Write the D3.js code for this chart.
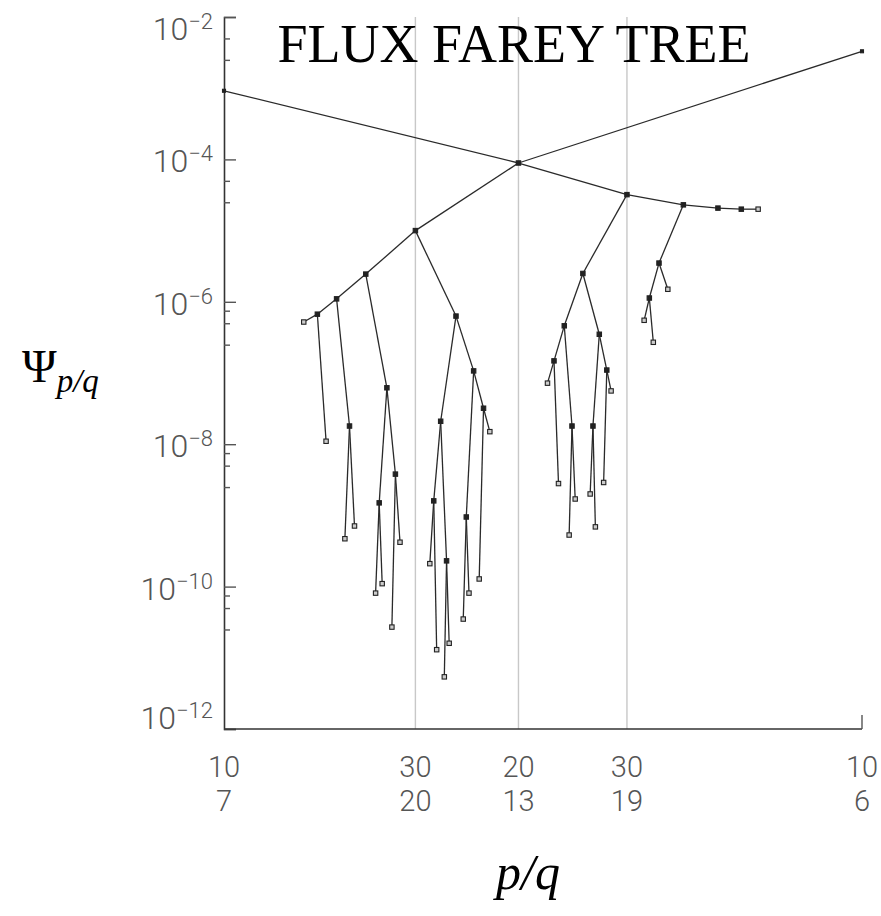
<!DOCTYPE html>
<html>
<head>
<meta charset="utf-8">
<script src="https://cdn.jsdelivr.net/npm/d3@7"></script>
<style>
  body { margin: 0; background: #fff; }
  svg { display: block; }
</style>
</head>
<body>
<div id="chart"></div>
<script>
/* Flux Farey tree: Psi_{p/q} against p/q on a log scale */

// numerators, denominators, flux values, and the fraction each one hangs from
const pNum = [10, 10, 20, 30, 30, 40, 50, 50, 70, 60, 90, 70, 110, 140, 130, 110, 100, 150, 180, 170, 130,
              80, 70, 110, 130, 140, 190, 210, 180, 120, 90, 170, 190, 160, 110,
              50, 40, 70, 80, 90, 120, 110, 160, 190, 170, 130, 110, 180, 210, 190, 140,
              70, 50, 100, 110, 130, 170, 60, 70];
const qDen = [7, 6, 13, 20, 19, 27, 33, 34, 47, 41, 61, 48, 75, 95, 88, 74, 67, 101, 121, 114, 87,
              53, 46, 73, 86, 93, 126, 139, 119, 79, 59, 112, 125, 105, 72,
              32, 25, 45, 51, 58, 77, 71, 103, 122, 109, 83, 70, 115, 134, 121, 89,
              44, 31, 63, 69, 82, 107, 37, 43];
const psi = [9.2e-4, 3.3e-3, 8.9e-5, 1.0e-5, 3.2e-5, 2.45e-6, 6.3e-7, 1.1e-6, 6.2e-8, 6.7e-7, 1.8e-8, 5.2e-7, 1.1e-8,
             4.7e-10, 7.1e-10, 1.5e-9, 3.8e-9, 8.1e-11, 1.1e-10, 2.7e-11, 4.2e-10,
             2.1e-8, 1.07e-7, 1.6e-9, 2.3e-10, 2.1e-10, 1.3e-11, 5.4e-12, 1.6e-11, 9.5e-10, 3.2e-8, 3.5e-11, 8.1e-11, 1.28e-10, 1.5e-8,
             2.5e-6, 2.3e-5, 4.6e-7, 3.5e-7, 1.48e-7, 1.8e-8, 7.2e-8, 2.8e-9, 5.3e-10, 1.7e-9, 1.8e-8, 1.1e-7, 2.0e-9, 6.9e-10, 2.9e-9, 5.6e-8,
             3.5e-6, 2.07e-5, 1.13e-6, 1.5e-6, 5.5e-7, 2.7e-7, 2.0e-5, 2.0e-5];
const parent = ["20/13", "20/13", "", "20/13", "20/13", "30/20", "30/20", "40/27", "40/27", "50/34", "50/34", "60/41", "60/41",
                "90/61", "90/61", "70/47", "70/47", "110/74", "110/74", "100/67", "100/67",
                "50/33", "50/33", "80/53", "80/53", "110/73", "110/73", "130/86", "130/86", "70/46", "70/46", "120/79", "120/79", "90/59", "90/59",
                "30/19", "30/19", "50/32", "50/32", "70/45", "70/45", "90/58", "90/58", "120/77", "120/77", "80/51", "80/51", "130/83", "130/83", "110/70", "110/70",
                "40/25", "40/25", "70/44", "70/44", "100/63", "100/63", "50/31", "60/37"];

// axis ticks
const xTickP = [10, 30, 20, 30, 10];
const xTickQ = [7, 20, 13, 19, 6];
const yMajor = [-2, -4, -6, -8, -10, -12];   // powers of ten that get a label
const yMinor = [0.5e-2, 0.25e-2, 0.5e-4, 0.25e-4,
                0.75e-6, 0.5e-6, 0.25e-6, 0.75e-8, 0.5e-8, 0.25e-8, 0.75e-10, 0.5e-10, 0.25e-10];

const width = 881, height = 916;
const margin = { top: 17, right: 19, bottom: 187, left: 224 };

const nodes = pNum.map((p, i) => ({
    label: p + "/" + qDen[i],
    v: p / qDen[i],
    psi: psi[i],
    parent: parent[i]
}));
const byLabel = new Map(nodes.map(d => [d.label, d]));
const parentSet = new Set(parent);
const ends = new Set(["10/7", "10/6"]);

const svg = d3.select("#chart")
    .append("svg")
    .attr("width", width)
    .attr("height", height);

const x = d3.scaleLinear()
    .domain([10 / 7, 10 / 6])
    .range([margin.left, width - margin.right]);

const y = d3.scaleLog()
    .domain([1e-12, 1e-2])
    .range([height - margin.bottom, margin.top]);

const tickFont = "Roboto, 'DejaVu Sans', sans-serif";

// grey verticals at the inner x ticks
svg.append("g")
    .selectAll("line")
    .data(xTickP.slice(1, 4).map((p, i) => p / xTickQ[i + 1]))
    .join("line")
    .attr("x1", d => x(d)).attr("x2", d => x(d))
    .attr("y1", margin.top).attr("y2", y(1e-12))
    .attr("stroke", "#c8c8c8")
    .attr("stroke-width", 1.4);

// left axis: long ticks at labelled decades, short ones in between
const yAxis = svg.append("g")
    .attr("transform", `translate(${margin.left},0)`)
    .call(d3.axisRight(y)
        .tickValues(yMajor.map(e => Math.pow(10, e)))
        .tickSize(12)
        .tickFormat(""));
yAxis.select(".domain").attr("stroke", "#333").attr("stroke-width", 1.6);
yAxis.selectAll(".tick line").attr("stroke", "#555").attr("stroke-width", 1.4);

const yMinorAxis = svg.append("g")
    .attr("transform", `translate(${margin.left},0)`)
    .call(d3.axisRight(y).tickValues(yMinor).tickSize(6).tickFormat(""));
yMinorAxis.select(".domain").remove();
yMinorAxis.selectAll(".tick line").attr("stroke", "#555").attr("stroke-width", 1.4);

// decade labels, the end ones shifted inward like the original
const yLab = svg.append("g")
    .selectAll("text")
    .data(yMajor)
    .join("text")
    .attr("x", 213)
    .attr("y", (e, i) => y(Math.pow(10, e)) + (i === 0 ? 23 : i === yMajor.length - 1 ? 0 : 13))
    .attr("text-anchor", "end")
    .attr("font-family", tickFont)
    .attr("font-weight", 300)
    .attr("fill", "#555");
yLab.append("tspan").attr("font-size", 32).text("10");
yLab.append("tspan").attr("font-size", 22).attr("dy", -11).text(e => "\u2212" + (-e));

// bottom axis line plus the end tick at 10/6
svg.append("line")
    .attr("x1", x(10 / 7)).attr("x2", x(10 / 6))
    .attr("y1", y(1e-12)).attr("y2", y(1e-12))
    .attr("stroke", "#333").attr("stroke-width", 1.6);
svg.append("line")
    .attr("x1", x(10 / 6)).attr("x2", x(10 / 6))
    .attr("y1", y(1e-12)).attr("y2", y(1e-12) - 14)
    .attr("stroke", "#555").attr("stroke-width", 1.4);

// fraction labels: numerator over denominator
const xLab = svg.append("g")
    .selectAll("g")
    .data(xTickP.map((p, i) => ({ p: p, q: xTickQ[i] })))
    .join("g")
    .attr("font-family", tickFont)
    .attr("font-weight", 300)
    .attr("font-size", 29)
    .attr("fill", "#555")
    .attr("text-anchor", "middle");
xLab.append("text")
    .attr("x", d => x(d.p / d.q)).attr("y", 777)
    .text(d => d.p);
xLab.append("text")
    .attr("x", d => x(d.p / d.q)).attr("y", 811)
    .text(d => d.q);

// tree branches: each fraction joined to the one it came from
svg.append("g")
    .selectAll("line")
    .data(nodes.filter(d => d.parent))
    .join("line")
    .attr("x1", d => x(d.v)).attr("y1", d => y(d.psi))
    .attr("x2", d => x(byLabel.get(d.parent).v)).attr("y2", d => y(byLabel.get(d.parent).psi))
    .attr("stroke", "#2a2a2a")
    .attr("stroke-width", 1.3);

// markers, open ones for the ends of branches
svg.append("g")
    .selectAll("rect")
    .data(nodes)
    .join("rect")
    .attr("x", d => x(d.v) - (ends.has(d.label) ? 1.5 : 2.2))
    .attr("y", d => y(d.psi) - (ends.has(d.label) ? 1.5 : 2.2))
    .attr("width", d => ends.has(d.label) ? 3 : 4.4)
    .attr("height", d => ends.has(d.label) ? 3 : 4.4)
    .attr("fill", d => parentSet.has(d.label) || ends.has(d.label) ? "#222" : "#ccc")
    .attr("stroke", "#222")
    .attr("stroke-width", 1.1);

// title and axis names
svg.append("text")
    .attr("x", 514).attr("y", 62)
    .attr("text-anchor", "middle")
    .attr("font-family", "'Liberation Serif', 'Times New Roman', serif")
    .attr("font-size", 54)
    .text("FLUX FAREY TREE");

svg.append("text")
    .attr("x", 528).attr("y", 889)
    .attr("text-anchor", "middle")
    .attr("font-family", "'Liberation Serif', serif")
    .attr("font-style", "italic")
    .attr("font-size", 50)
    .text("p/q");

const psiLab = svg.append("text")
    .attr("x", 22).attr("y", 382)
    .attr("font-family", "'Liberation Serif', serif");
psiLab.append("tspan").attr("font-size", 47).text("\u03A8");
psiLab.append("tspan").attr("font-size", 33).attr("font-style", "italic").attr("dy", 10).text("p/q");
</script>
</body>
</html>
